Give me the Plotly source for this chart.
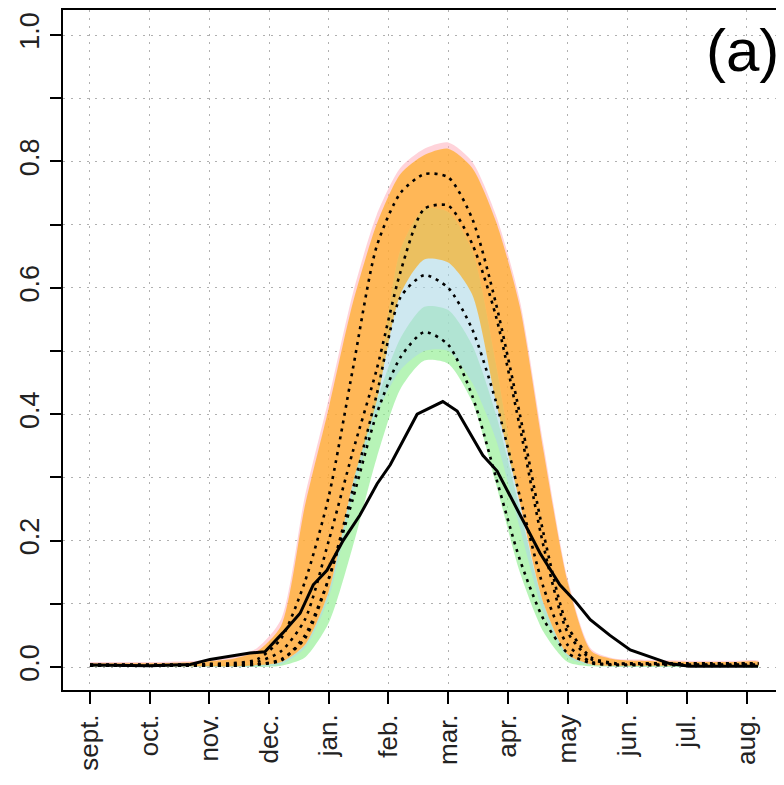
import plotly.graph_objects as go

months = ["sept.", "oct.", "nov.", "dec.", "jan.", "feb.", "mar.", "apr.", "may", "jun.", "jul.", "aug."]
month_pos = [0, 1, 2, 3, 4, 5, 6, 7, 8, 9, 10, 11]

x_grid = [0.0, 0.4, 0.8, 1.2, 1.6, 2.0, 2.4, 2.8, 3.2, 3.6, 4.0, 4.4, 4.8, 5.2, 5.6,
          6.0, 6.4, 6.8, 7.2, 7.6, 8.0, 8.4, 8.8, 9.2, 9.6, 10.0, 10.4, 10.8, 11.2]

pink_hi = [0.008, 0.008, 0.008, 0.008, 0.009, 0.011, 0.016, 0.03, 0.075, 0.27, 0.425, 0.59, 0.715, 0.79, 0.82,
           0.83, 0.80, 0.715, 0.58, 0.35, 0.14, 0.028, 0.013, 0.012, 0.011, 0.01, 0.01, 0.01, 0.01]
pink_lo = [0.001, 0.001, 0.001, 0.001, 0.001, 0.001, 0.001, 0.003, 0.008, 0.035, 0.12, 0.29, 0.44, 0.66, 0.725,
           0.72, 0.66, 0.48, 0.26, 0.10, 0.02, 0.004, 0.002, 0.002, 0.002, 0.002, 0.002, 0.002, 0.002]
orange_hi = [0.006, 0.006, 0.006, 0.006, 0.007, 0.009, 0.013, 0.025, 0.065, 0.255, 0.41, 0.575, 0.70, 0.78, 0.81,
             0.82, 0.79, 0.705, 0.57, 0.34, 0.135, 0.025, 0.012, 0.01, 0.009, 0.008, 0.008, 0.008, 0.008]
orange_lo = [0.001, 0.001, 0.001, 0.001, 0.001, 0.001, 0.001, 0.003, 0.008, 0.035, 0.12, 0.29, 0.42, 0.59, 0.645,
             0.64, 0.59, 0.42, 0.26, 0.10, 0.02, 0.004, 0.002, 0.002, 0.002, 0.002, 0.002, 0.002, 0.002]
blue_hi = [0.001, 0.001, 0.001, 0.001, 0.001, 0.001, 0.001, 0.003, 0.008, 0.035, 0.12, 0.29, 0.44, 0.66, 0.725,
           0.72, 0.66, 0.48, 0.26, 0.10, 0.02, 0.004, 0.002, 0.002, 0.002, 0.002, 0.002, 0.002, 0.002]
blue_lo = [0.0, 0.0, 0.0, 0.0, 0.0, 0.0, 0.0, 0.001, 0.004, 0.03, 0.11, 0.27, 0.40, 0.47, 0.50,
           0.50, 0.45, 0.36, 0.22, 0.085, 0.016, 0.003, 0.001, 0.001, 0.001, 0.001, 0.001, 0.001, 0.001]
green_hi = [0.002, 0.002, 0.002, 0.002, 0.002, 0.003, 0.004, 0.005, 0.008, 0.035, 0.12, 0.29, 0.42, 0.52, 0.57,
            0.565, 0.51, 0.40, 0.25, 0.10, 0.02, 0.004, 0.003, 0.003, 0.003, 0.003, 0.003, 0.003, 0.003]
green_lo = [0.0, 0.0, 0.0, 0.0, 0.0, 0.0, 0.0, 0.0, 0.002, 0.015, 0.07, 0.19, 0.33, 0.44, 0.485,
            0.48, 0.42, 0.29, 0.15, 0.055, 0.008, 0.001, 0.0, 0.0, 0.0, 0.0, 0.0, 0.0, 0.0]

med_pink = [0.004, 0.004, 0.004, 0.004, 0.004, 0.005, 0.006, 0.012, 0.045, 0.135, 0.27, 0.47, 0.665, 0.75, 0.78,
            0.775, 0.71, 0.575, 0.40, 0.21, 0.065, 0.015, 0.006, 0.006, 0.006, 0.006, 0.006, 0.006, 0.006]
med_orange = [0.003, 0.003, 0.003, 0.003, 0.003, 0.004, 0.005, 0.008, 0.025, 0.075, 0.2, 0.34, 0.47, 0.625, 0.725,
              0.73, 0.67, 0.555, 0.38, 0.19, 0.055, 0.012, 0.005, 0.005, 0.005, 0.005, 0.005, 0.005, 0.005]
med_blue = [0.002, 0.002, 0.002, 0.002, 0.002, 0.002, 0.002, 0.004, 0.012, 0.045, 0.14, 0.28, 0.43, 0.585, 0.62,
            0.60, 0.535, 0.42, 0.27, 0.125, 0.035, 0.008, 0.004, 0.004, 0.004, 0.004, 0.004, 0.004, 0.004]
med_green = [0.002, 0.002, 0.002, 0.002, 0.002, 0.002, 0.002, 0.004, 0.01, 0.05, 0.14, 0.265, 0.40, 0.49, 0.53,
             0.51, 0.43, 0.30, 0.17, 0.075, 0.022, 0.006, 0.003, 0.003, 0.003, 0.003, 0.003, 0.003, 0.003]

obs_x = [0.0, 1.0, 1.68, 2.01, 2.68, 2.93, 3.23, 3.52, 3.74, 3.97, 4.24, 4.52, 4.81, 5.03, 5.48, 5.91,
         6.15, 6.58, 6.82, 7.20, 7.54, 7.87, 8.12, 8.38, 8.71, 9.05, 9.38, 9.72, 10.05, 11.19]
obs_y = [0.003, 0.002, 0.004, 0.012, 0.022, 0.024, 0.054, 0.085, 0.13, 0.153, 0.20, 0.24, 0.29, 0.32, 0.40, 0.42,
         0.405, 0.335, 0.31, 0.24, 0.18, 0.13, 0.105, 0.075, 0.05, 0.027, 0.016, 0.005, 0.001, 0.001]

y_ticks = [0.0, 0.1, 0.2, 0.3, 0.4, 0.5, 0.6, 0.7, 0.8, 0.9, 1.0]
y_labels = ["0.0", "", "0.2", "", "0.4", "", "0.6", "", "0.8", "", "1.0"]

fig = go.Figure()

bands = [
    (green_lo, green_hi, "rgba(144,238,144,0.65)"),
    (blue_lo, blue_hi, "rgba(173,216,230,0.6)"),
    (pink_lo, pink_hi, "rgba(255,182,193,0.6)"),
    (orange_lo, orange_hi, "rgba(255,165,0,0.6)"),
]
for lo, hi, col in bands:
    fig.add_trace(go.Scatter(
        x=x_grid + x_grid[::-1], y=hi + lo[::-1], fill="toself", fillcolor=col,
        mode="lines", line=dict(width=0, shape="spline", smoothing=0.7),
        hoverinfo="skip", showlegend=False))

for med in [med_pink, med_orange, med_blue, med_green]:
    fig.add_trace(go.Scatter(
        x=x_grid, y=med, mode="lines",
        line=dict(color="black", width=2.6, dash="3px,5px", shape="spline", smoothing=0.7),
        showlegend=False))

fig.add_trace(go.Scatter(x=obs_x, y=obs_y, mode="lines",
                         line=dict(color="black", width=3), showlegend=False))

# figure is placed inside the page body (8px default margin), so size/margins compensate
fig.add_annotation(text="(a)", xref="paper", yref="paper", x=0.889, y=0.993,
                   xanchor="left", yanchor="top", showarrow=False,
                   font=dict(family="Liberation Sans, Arial, sans-serif", size=60, color="black"))

xfont = dict(family="Liberation Sans, Arial, sans-serif", size=26, color="#222222")
yfont = dict(family="Liberation Sans, Arial, sans-serif", size=27, color="#222222")
fig.update_layout(
    width=776, height=777,
    margin=dict(l=55, r=0, t=2, b=95),
    paper_bgcolor="white", plot_bgcolor="white",
    font=xfont,
    xaxis=dict(range=[-0.452, 11.625], tickvals=month_pos, ticktext=months, tickangle=-90,
               showgrid=True, gridcolor="#b0b0b0", griddash="2px,6px", gridwidth=1.2,
               showline=True, linecolor="black", linewidth=2, mirror=True,
               ticks="outside", ticklen=12, tickwidth=2, tickcolor="black",
               zeroline=False, tickfont=xfont, automargin=False),
    yaxis=dict(range=[-0.0364, 1.0396], tickvals=y_ticks, ticktext=y_labels, tickangle=-90,
               showgrid=True, gridcolor="#b0b0b0", griddash="2px,6px", gridwidth=1.2,
               showline=True, linecolor="black", linewidth=2, mirror=False,
               ticks="outside", ticklen=11, tickwidth=2, tickcolor="black",
               zeroline=False, tickfont=yfont, automargin=False),
)

fig.write_html("out.html")
